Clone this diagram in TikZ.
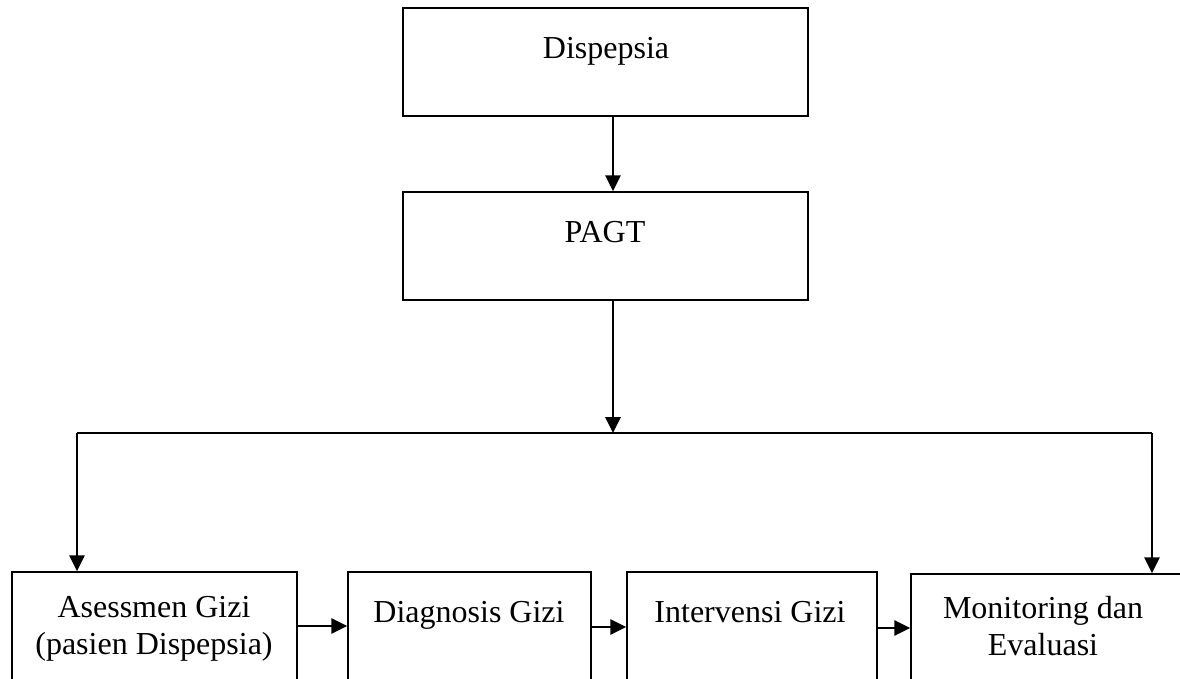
\documentclass[tikz,border=0pt]{standalone}
\usepackage{fontspec}
\setmainfont{Liberation Serif}
\usetikzlibrary{arrows.meta}
\begin{document}
\begin{tikzpicture}[x=1pt,y=-1pt,
  box/.style={draw, line width=1.4pt, rectangle, inner sep=0pt},
  txt/.style={font=\fontsize{32}{36.5}\selectfont, align=center, inner sep=0pt, anchor=base},
  conn/.style={line width=2.8pt, -{Triangle[length=16pt,width=15pt]}},
  plain/.style={line width=2.4pt}]
\useasboundingbox (0,0) rectangle (1180,678);
\clip (0,0) rectangle (1180,678);
% top boxes
\node[box, minimum width=405pt, minimum height=108pt] (dis) at (605.5,62) {};
\node[txt] (distxt) at (606,58) {Dispepsia};
\node[box, minimum width=405pt, minimum height=108pt] (pagt) at (605.5,246) {};
\node[txt] (pagttxt) at (605,242) {PAGT};
% bottom boxes
\node[box, minimum width=285pt, minimum height=140pt] (ases) at (154.5,642) {};
\node[txt] (asestxt) at (154,654) {Asessmen Gizi\\(pasien Dispepsia)};
\node[box, minimum width=243pt, minimum height=140pt] (diag) at (469.5,642) {};
\node[txt] (diagtxt) at (469,622) {Diagnosis Gizi};
\node[box, minimum width=250pt, minimum height=140pt] (inter) at (752,642) {};
\node[txt] (intertxt) at (750,622) {Intervensi Gizi};
\node[box, minimum width=300pt, minimum height=140pt] (moni) at (1061,644) {};
\node[txt] (monitxt) at (1043,655) {Monitoring dan\\Evaluasi};
% connectors
\coordinate (jc) at (613,433);
\coordinate (jl) at (77,433);
\coordinate (jr) at (1152,433);
\draw[conn] (dis.south -| jc) -- (pagt.north -| jc);
\draw[conn] (pagt.south -| jc) -- (jc);
\draw[plain] (jl) -- (jr);
\draw[conn] (jl) -- (ases.north -| jl);
\draw[conn] (jr) -- (moni.north -| jr);
\draw[conn] (ases.east |- 0,626) -- (diag.west |- 0,626);
\draw[conn] (diag.east |- 0,627) -- (inter.west |- 0,627);
\draw[conn] (inter.east |- 0,628) -- (moni.west |- 0,628);
\end{tikzpicture}
\end{document}
